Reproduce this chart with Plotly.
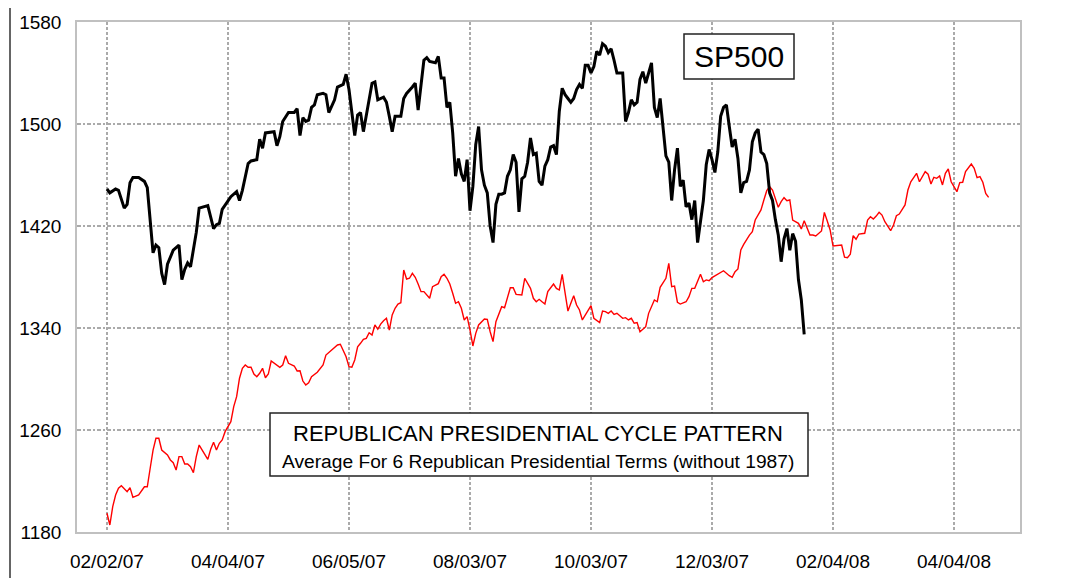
import plotly.graph_objects as go

# ---- data (trading-day index since 02/02/07) ----
sp_day = [0,1,3,4,6,7,8,9,11,13,14,15,16,17,18,19,20,21,23,25,26,27,28,29,30,31,32,34,35,36,37,38,39,40,42,43,45,46,47,49,50,52,53,54,55,58,59,60,61,63,65,66,67,68,69,70,71,72,73,75,76,77,79,80,82,83,84,85,86,87,88,89,90,91,92,93,94,96,97,98,99,100,102,103,104,106,107,108,110,111,112,114,115,116,117,
          118,119,120,121,122,123,124,125,126,127,128,129,130,131,132,133,134,135,136,137,138,139,140,141,142,143,144,145,146,147,148,149,150,151,152,153,154,155,156,157,158,
          159,160,161,162,163,164,165,166,167,168,169,170,171,172,173,174,175,176,177,179,180,181,182,183,184,185,186,187,188,189,190,191,192,193,194,195,196,197,198,199,200,
          201,202,203,204,205,206,207,208,209,210,211,212,213,214,215,216,217,218,219,220,221,222,223,224,225,226,227,228,229,230,231,232,233,234,235,236,237,238,239,240,241,242]
sp_close = [1449,1446,1449,1448,1434,1437,1454,1458,1458,1455,1450,1425,1399,1405,1403,1383,1374,1390,1401,1405,1378,1386,1391,1388,1403,1415,1434,1435,1436,1427,1418,1421,1422,1433,1440,1443,1447,1440,1448,1469,1471,1472,1488,1481,1493,1494,1483,1490,1502,1509,1509,1512,1491,1505,1502,1503,1513,1515,1523,1524,1523,1509,1519,1529,1531,1539,1527,1511,1491,1507,1509,1494,1507,1520,1532,1533,1519,1521,1517,1506,1494,1506,1506,1520,1524,1529,1532,1511,1550,1552,1549,1548,1553,1536,1536,
            1513,1517,1493,1459,1473,1461,1455,1472,1432,1451,1484,1498,1464,1452,1446,1420,1407,1437,1445,1445,1446,1459,1464,1476,1470,1431,1457,1459,1470,1489,1476,1477,1455,1452,1467,1472,1482,1483,1476,1510,1528,
            1523,1520,1517,1520,1527,1531,1528,1546,1546,1540,1545,1557,1554,1563,1561,1556,1559,1550,1540,1540,1502,1509,1519,1515,1517,1535,1541,1532,1541,1548,1513,1505,1520,1498,1475,1470,1440,1464,1481,1451,1456,
            1435,1438,1425,1440,1407,1425,1440,1468,1480,1472,1462,1478,1506,1513,1515,1498,1482,1488,1473,1446,1454,1455,1464,1486,1493,1496,1478,1476,1469,1446,1440,1425,1413,1392,1410,1418,1401,1414,1408,1378,1362,1335]

cycle_day = [0,1,2,3,4,5,7,8,9,11,13,14,15,16,17,18,19,21,22,23,24,25,26,27,28,29,30,31,32,33,35,36,37,38,39,40,41,43,44,45,46,47,48,49,50,51,52,53,54,55,56,57,58,60,61,62,63,65,66,67,68,69,70,71,73,75,76,78,79,80,81,83,84,85,86,87,88,89,90,91,92,93,94,95,96,97,98,99,100,101,102,
             103,104,105,106,107,108,109,110,112,113,115,116,117,118,119,120,121,122,123,124,125,126,127,128,129,131,132,133,134,135,136,137,138,140,141,142,144,145,147,148,149,150,151,152,153,155,156,157,158,
             160,161,162,163,164,165,166,168,169,171,172,173,174,175,176,177,179,180,181,182,183,184,185,187,188,190,191,192,194,195,196,197,198,199,201,202,203,204,206,207,208,209,210,212,213,214,216,217,218,219,
             220,221,223,224,225,227,228,229,230,231,233,234,235,236,237,238,240,241,242,243,244,245,246,248,249,250,251,252,253,255,256,257,258,259,260,261,263,264,265,266,267,268,269,270,272,273,274,275,277,278,279,
             281,282,283,284,285,286,287,288,289,290,291,292,293,295,296,297,298,299,300,301,302,303,304,305,306]
cycle_value = [1194.7,1185.5,1199.9,1209.0,1214.3,1216.3,1211.6,1214.8,1207.2,1209.0,1215.5,1215.5,1230.0,1244.3,1253.5,1253.5,1244.3,1240.4,1236.5,1234.4,1228.6,1239.1,1239.1,1233.3,1233.3,1231.2,1226.5,1239.1,1248.2,1244.3,1237.0,1244.9,1250.4,1244.3,1249.6,1252.2,1258.7,1266.5,1278.3,1286.1,1300.6,1308.4,1311.0,1309.2,1309.2,1303.9,1301.8,1304.5,1308.4,1301.0,1303.9,1314.1,1312.3,1309.2,1311.0,1318.3,1312.3,1310.2,1306.3,1306.5,1298.4,1295.3,1297.1,1301.8,1305.3,1311.0,1318.8,1322.7,1324.1,1326.7,1327.2,1317.5,1309.7,1309.2,1314.9,1325.3,1328.0,1331.1,1331.9,1336.3,1334.5,1342.4,1339.0,1343.1,1345.7,1347.6,1338.4,1350.2,1355.5,1358.8,1359.8,
               1385.5,1378.4,1379.0,1382.9,1379.8,1374.5,1368.5,1368.5,1363.3,1372.4,1374.8,1380.2,1382.1,1379.0,1374.5,1367.2,1359.4,1360.6,1355.5,1346.3,1348.9,1338.5,1325.9,1335.8,1342.4,1347.1,1346.8,1337.1,1329.3,1344.9,1350.2,1356.7,1355.9,1371.6,1371.6,1366.4,1365.9,1379.0,1371.1,1363.3,1360.6,1362.5,1360.6,1358.8,1368.5,1374.5,1371.1,1369.8,1382.1,
               1353.3,1359.4,1365.3,1358.0,1354.1,1346.3,1350.2,1357.5,1347.6,1344.2,1353.3,1352.8,1351.5,1353.3,1350.7,1351.5,1347.6,1348.1,1346.3,1347.6,1343.7,1344.2,1337.1,1341.0,1351.5,1362.0,1360.6,1371.9,1379.0,1390.7,1372.4,1372.9,1360.2,1358.8,1360.6,1364.6,1371.1,1371.1,1382.1,1376.3,1377.7,1377.1,1379.5,1382.4,1383.4,1384.9,1381.0,1379.8,1384.2,1386.3,
               1401.2,1405.6,1412.9,1415.5,1424.7,1432.6,1440.4,1447.7,1450.8,1448.2,1434.7,1439.1,1442.2,1439.8,1440.4,1424.7,1422.1,1417.7,1424.2,1418.2,1412.9,1412.9,1412.2,1416.1,1430.7,1423.9,1416.9,1404.3,1404.6,1405.1,1395.5,1395.1,1397.8,1412.4,1409.6,1413.7,1414.3,1424.7,1427.3,1425.5,1427.8,1430.7,1428.6,1423.4,1416.3,1420.8,1428.1,1429.4,1436.5,1448.2,1454.7,
               1461.3,1454.7,1459.2,1462.6,1460.6,1452.9,1458.2,1457.4,1459.2,1452.2,1461.3,1464.7,1454.7,1446.9,1454.0,1454.3,1462.6,1465.3,1468.6,1465.3,1457.9,1458.7,1454.3,1445.6,1442.5]

tick_days = [0, 42, 84, 126, 168, 210, 252, 294]
tick_labels = ["02/02/07", "04/04/07", "06/05/07", "08/03/07", "10/03/07", "12/03/07", "02/04/08", "04/04/08"]
y_ticks = [1180, 1260, 1340, 1420, 1500, 1580]

FONT = "Liberation Sans, Arial, Helvetica, sans-serif"

fig = go.Figure()
fig.add_trace(go.Scatter(x=cycle_day, y=cycle_value, mode="lines",
                         line=dict(color="#ff0000", width=1.4), name="Cycle", hoverinfo="skip"))
fig.add_trace(go.Scatter(x=sp_day, y=sp_close, mode="lines",
                         line=dict(color="#000000", width=3), name="SP500", hoverinfo="skip"))

# plot area in page pixels: x 77..1020, y 22..532 (page has an 8px body offset)
OFF = 8
L, R, T, B = 77, 1020, 22, 532
W, H = R - L, B - T
def px(x):
    return (x - L) / W
def py(y):
    return (B - y) / H

shapes = [
    # outer frame
    dict(type="rect", xref="paper", yref="paper", x0=px(10), x1=px(1066), y0=py(600), y1=py(4),
         line=dict(color="#333333", width=1.5), fillcolor="rgba(0,0,0,0)", layer="above"),
    # SP500 box
    dict(type="rect", xref="paper", yref="paper", x0=px(684), x1=px(794), y0=py(79), y1=py(34),
         line=dict(color="#222222", width=1.5), fillcolor="white", layer="above"),
    # title box
    dict(type="rect", xref="paper", yref="paper", x0=px(270), x1=px(808), y0=py(476), y1=py(413),
         line=dict(color="#222222", width=1.5), fillcolor="white", layer="above"),
]

annotations = [
    dict(text="SP500", xref="paper", yref="paper", x=px(739), y=py(57), showarrow=False,
         xanchor="center", yanchor="middle", font=dict(family=FONT, size=30, color="#000")),
    dict(text="REPUBLICAN PRESIDENTIAL CYCLE PATTERN", xref="paper", yref="paper", x=px(538), y=py(433),
         showarrow=False, xanchor="center", yanchor="middle", font=dict(family=FONT, size=22, color="#000")),
    dict(text="Average For 6 Republican Presidential Terms (without 1987)", xref="paper", yref="paper",
         x=px(538), y=py(461), showarrow=False, xanchor="center", yanchor="middle",
         font=dict(family=FONT, size=19.2, color="#000")),
]

fig.update_layout(
    width=1073, height=578,
    margin=dict(l=L - OFF, r=1073 - (R - OFF), t=T - OFF, b=578 - (B - OFF), pad=0),
    paper_bgcolor="white", plot_bgcolor="white",
    showlegend=False,
    font=dict(family=FONT, size=19, color="#000"),
    shapes=shapes, annotations=annotations,
)
fig.update_xaxes(range=[-10.4, 316.9], tickmode="array", tickvals=tick_days, ticktext=tick_labels,
                 showgrid=True, gridcolor="#aaaaaa", gridwidth=1.5, griddash="3px,2px",
                 showline=True, mirror=True, linecolor="#c0c0c0", linewidth=1.5,
                 ticks="outside", ticklen=11, tickcolor="rgba(0,0,0,0)",
                 zeroline=False, automargin=False, tickfont=dict(family=FONT, size=19, color="#000"))
fig.update_yaxes(range=[1180, 1580], tickmode="array", tickvals=y_ticks,
                 showgrid=True, gridcolor="#aaaaaa", gridwidth=1.5, griddash="4px,2px,2px,2px",
                 showline=True, mirror=True, linecolor="#c0c0c0", linewidth=1.5,
                 ticks="outside", ticklen=10, tickcolor="rgba(0,0,0,0)",
                 zeroline=False, automargin=False, tickfont=dict(family=FONT, size=19, color="#000"))

fig.write_html("out.html")
